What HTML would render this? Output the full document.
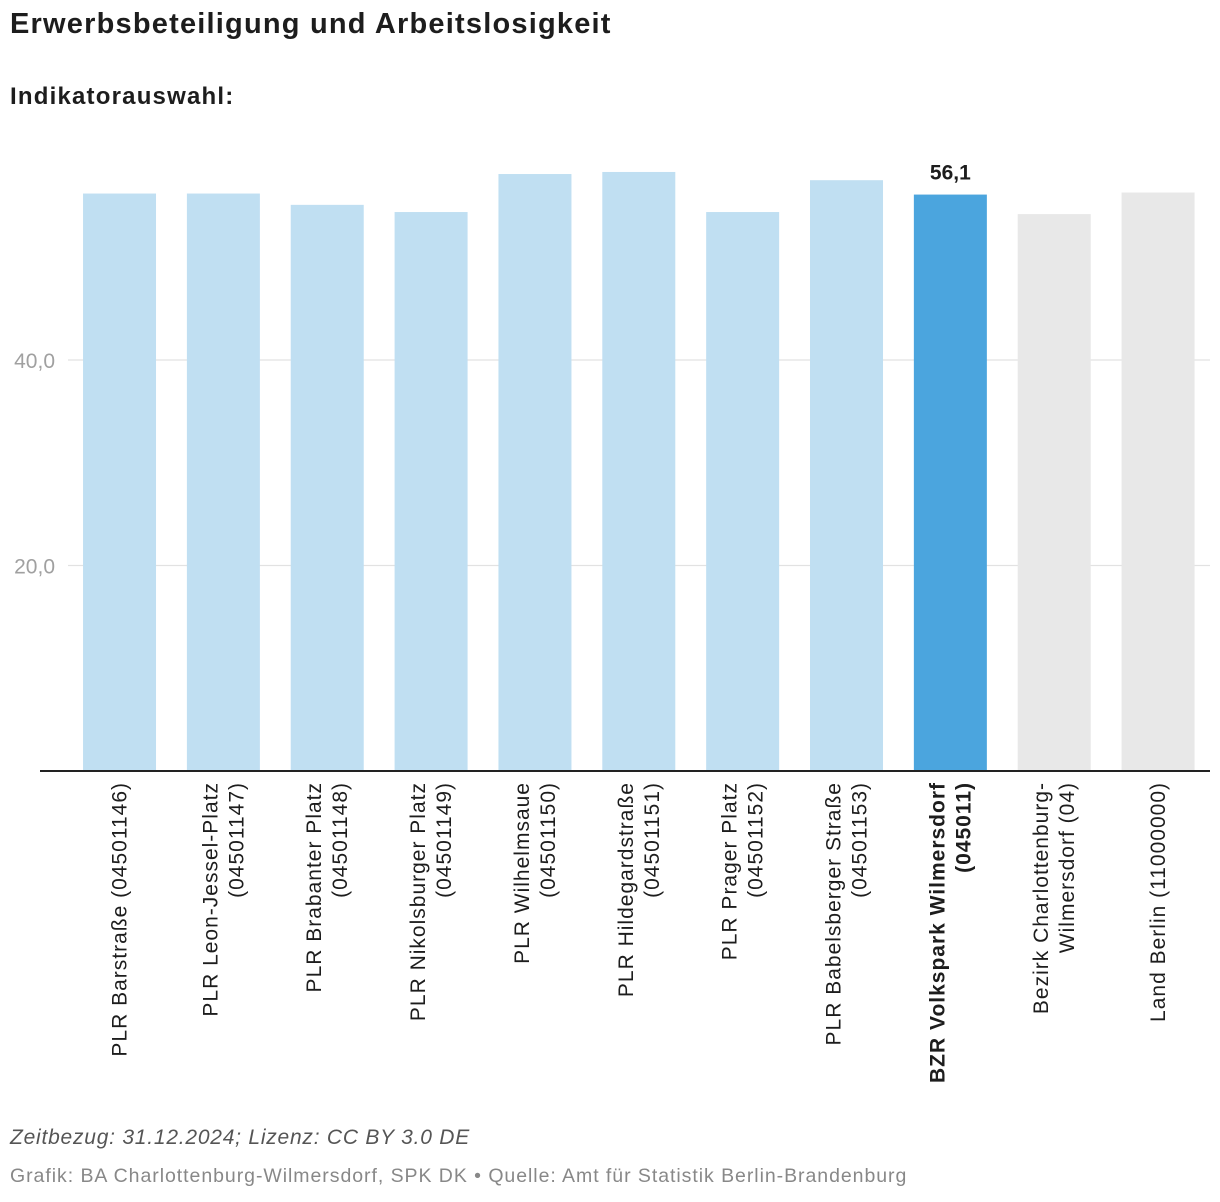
<!DOCTYPE html>
<html><head><meta charset="utf-8"><style>
body{margin:0;background:#fff;width:1220px;height:1202px;overflow:hidden;font-family:"Liberation Sans",sans-serif;}
.t{position:absolute;left:10px;white-space:nowrap}
</style></head><body>
<div class="t" style="top:8px;font-size:29px;font-weight:bold;color:#1d1d1d;letter-spacing:1.2px">Erwerbsbeteiligung und Arbeitslosigkeit</div>
<div class="t" style="top:83px;font-size:24px;font-weight:bold;color:#1d1d1d;letter-spacing:1.2px">Indikatorauswahl:</div>
<svg id="chart" width="1220" height="1202" style="position:absolute;left:0;top:0"></svg>
<div class="t" style="top:1126px;font-size:21px;font-style:italic;color:#555;letter-spacing:0.77px">Zeitbezug: 31.12.2024; Lizenz: CC BY 3.0 DE</div>
<div class="t" style="top:1165px;font-size:19.5px;color:#888;letter-spacing:0.95px">Grafik: BA Charlottenburg-Wilmersdorf, SPK DK • Quelle: Amt für Statistik Berlin-Brandenburg</div>
<script>
const categories=[["PLR Barstraße (04501146)"],["PLR Leon-Jessel-Platz","(04501147)"],["PLR Brabanter Platz","(04501148)"],["PLR Nikolsburger Platz","(04501149)"],["PLR Wilhelmsaue","(04501150)"],["PLR Hildegardstraße","(04501151)"],["PLR Prager Platz","(04501152)"],["PLR Babelsberger Straße","(04501153)"],["BZR Volkspark Wilmersdorf","(045011)"],["Bezirk Charlottenburg-","Wilmersdorf (04)"],["Land Berlin (11000000)"]];
const values=[56.2,56.2,55.1,54.4,58.1,58.3,54.4,57.5,56.1,54.2,56.3];
const kinds=["plr","plr","plr","plr","plr","plr","plr","plr","bzr","ref","ref"];
const ticks=[20,40];
const tickLabels=["20,0","40,0"];
const highlightLabel="56,1";

const NS="http://www.w3.org/2000/svg";
const svg=document.getElementById('chart');
const x0=67.6,x1=1210,y0=771,pxPerUnit=10.275;
const band=(x1-x0)/categories.length,bw=73;
const y=v=>y0-v*pxPerUnit;
const xc=i=>x0+band*(i+0.5);
function mk(t,a){const e=document.createElementNS(NS,t);for(const k in a)e.setAttribute(k,a[k]);svg.appendChild(e);return e;}
ticks.forEach((t,i)=>{
  const g=mk('line',{x1:68,x2:1210,y1:y(t),y2:y(t),stroke:'#e2e2e2','stroke-width':1.3});
  
  
  const l=mk('text',{x:55,y:y(t)+8,'text-anchor':'end','font-size':21,fill:'#a0a0a0','font-family':'Liberation Sans, sans-serif'});
  l.textContent=tickLabels[i];
  
  
});
const colors={plr:'#c0dff2',bzr:'#4ba5de',ref:'#e8e8e8'};
values.forEach((v,i)=>{
  const r=mk('rect',{x:xc(i)-bw/2,y:y(v),width:bw,height:y0-y(v),fill:colors[kinds[i]]});
  
  
  const bold=kinds[i]==='bzr';
  const g=mk('text',{transform:`translate(${xc(i)},782) rotate(-90)`,'text-anchor':'end','font-size':21,'letter-spacing':1,fill:'#1d1d1d','font-weight':bold?'bold':'normal','font-family':'Liberation Sans, sans-serif'});
  
  
  const lines=categories[i];
  lines.forEach((s,j)=>{
    const ts=document.createElementNS(NS,'tspan');
    ts.setAttribute('x',0);
    ts.setAttribute('y',lines.length===1?7:(j===0?-6:20));
    ts.textContent=s;g.appendChild(ts);
  });
  if(bold){
    const vl=mk('text',{x:xc(i),y:y(v)-15,'text-anchor':'middle','font-size':21,'font-weight':'bold',fill:'#1d1d1d','font-family':'Liberation Sans, sans-serif'});
    vl.textContent=highlightLabel;
    
    
  }
});
const ax=mk('line',{x1:40,x2:1210,y1:y0,y2:y0,stroke:'#222','stroke-width':2});


</script>
</body></html>
